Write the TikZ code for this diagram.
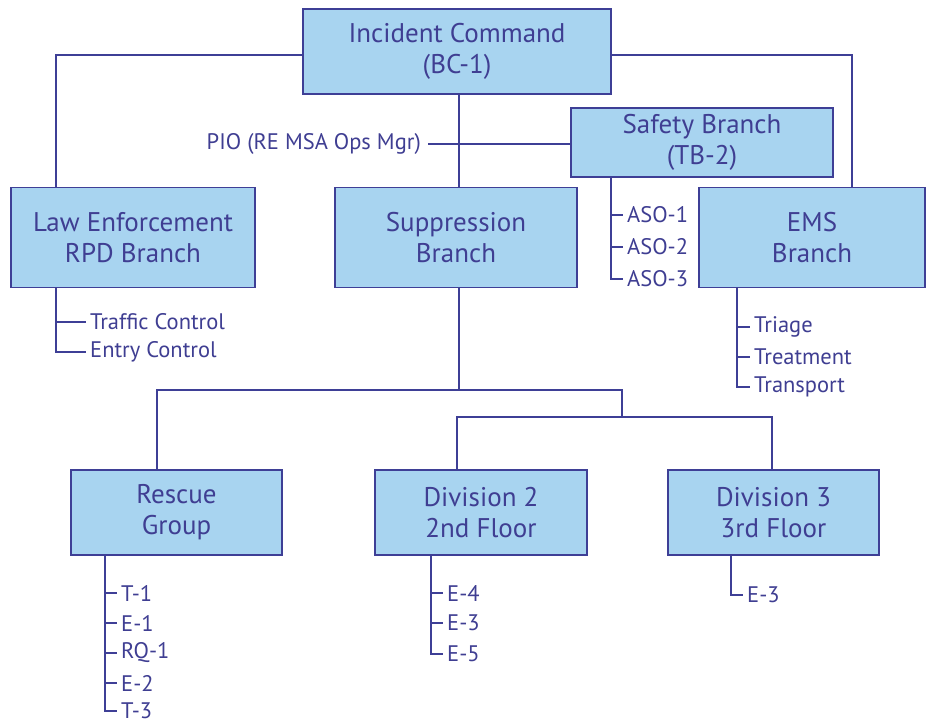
\documentclass[tikz,border=0pt]{standalone}
\usepackage{fontspec}
\setmainfont{PT Sans}
\definecolor{boxfill}{HTML}{A8D4F0}
\definecolor{boxline}{HTML}{3E3F96}
\definecolor{txt}{HTML}{3F3E92}
\begin{document}
\begin{tikzpicture}[x=1pt,y=-1pt,
  box/.style={draw=boxline,fill=boxfill,line width=1.8pt,text=txt,align=center,
    font=\fontsize{27}{31}\selectfont,inner sep=0pt},
  item/.style={text=txt,anchor=west,inner sep=0pt,font=\fontsize{22.5}{26}\selectfont},
  conn/.style={draw=boxline,line width=1.8pt}]
\useasboundingbox (0,0) rectangle (933,724);
% boxes
\node[box,minimum width=308,minimum height=85] (ic) at (457,51.5) {Incident Command\\(BC-1)};
\node[box,minimum width=262,minimum height=69] (safety) at (702,142.5) {Safety Branch\\(TB-2)};
\node[box,minimum width=244,minimum height=100] (law) at (133,237.5) {Law Enforcement\\RPD Branch};
\node[box,minimum width=242,minimum height=100] (supp) at (456,237.5) {Suppression\\Branch};
\node[box,minimum width=226,minimum height=100] (ems) at (812,237.5) {EMS\\Branch};
\node[box,minimum width=211,minimum height=85] (rescue) at (176.5,512.5) {Rescue\\Group};
\node[box,minimum width=212,minimum height=85] (div2) at (481,512.5) {Division 2\\2nd Floor};
\node[box,minimum width=211,minimum height=85] (div3) at (773.5,512.5) {Division 3\\3rd Floor};
% PIO
\node[text=txt,anchor=east,inner sep=0pt,font=\fontsize{22.5}{26}\selectfont] (pio) at (421,144) {PIO (RE MSA Ops Mgr)};
% coordinates
\coordinate (lawtop) at (56,188);
\coordinate (emstop) at (852,188);
\coordinate (icdown) at (459,94);
\coordinate (supptop) at (459,188);
\coordinate (suppbot) at (459,287);
\coordinate (split1) at (459,390);
\coordinate (rescuetop) at (157,470);
\coordinate (split2) at (622,390);
\coordinate (split3) at (622,417);
\coordinate (div2top) at (457,470);
\coordinate (div3top) at (772,470);
% main connectors
\draw[conn] (ic.west |- 0,55) -| (lawtop);
\draw[conn] (ic.east |- 0,55) -| (emstop);
\draw[conn] (icdown) -- (supptop);
\draw[conn] ([xshift=7]pio.east) -- (safety.west |- pio.east);
\draw[conn] (suppbot) -- (split1) -| (rescuetop);
\draw[conn] (split1) -| (split3);
\draw[conn] (div2top) |- (split3) -| (div3top);
% Law items
\coordinate (lawsub) at (56,287);
\node[item] (tc) at (90,322) {Traffic Control};
\node[item] (ec) at (90,352) {Entry Control};
\draw[conn] (lawsub) |- ([xshift=-4]ec.west);
\draw[conn] (tc.west -| lawsub) -- ([xshift=-4]tc.west);
% Safety items
\coordinate (safsub) at (611,177);
\node[item] (aso1) at (627,215) {ASO-1};
\node[item] (aso2) at (627,247) {ASO-2};
\node[item] (aso3) at (627,279) {ASO-3};
\draw[conn] (safsub) |- ([xshift=-4]aso3.west);
\draw[conn] (aso1.west -| safsub) -- ([xshift=-4]aso1.west);
\draw[conn] (aso2.west -| safsub) -- ([xshift=-4]aso2.west);
% EMS items
\coordinate (emssub) at (737,287);
\node[item] (tri) at (754,327) {Triage};
\node[item] (trt) at (754,357) {Treatment};
\node[item] (trp) at (754,387) {Transport};
\draw[conn] (emssub) |- ([xshift=-4]trp.west);
\draw[conn] (tri.west -| emssub) -- ([xshift=-4]tri.west);
\draw[conn] (trt.west -| emssub) -- ([xshift=-4]trt.west);
% Rescue items
\coordinate (ressub) at (105,555);
\node[item] (t1) at (121,593) {T-1};
\node[item] (e1) at (121,623) {E-1};
\node[item] (rq1) at (121,653) {RQ-1};
\node[item] (e2) at (121,683) {E-2};
\node[item] (t3) at (121,711) {T-3};
\draw[conn] (ressub) |- ([xshift=-4]t3.west);
\foreach \n in {t1,e1,rq1,e2}{\draw[conn] (\n.west -| ressub) -- ([xshift=-4]\n.west);}
% Div2 items
\coordinate (d2sub) at (431,555);
\node[item] (e4) at (447,593) {E-4};
\node[item] (e3a) at (447,623) {E-3};
\node[item] (e5) at (447,654) {E-5};
\draw[conn] (d2sub) |- ([xshift=-4]e5.west);
\draw[conn] (e4.west -| d2sub) -- ([xshift=-4]e4.west);
\draw[conn] (e3a.west -| d2sub) -- ([xshift=-4]e3a.west);
% Div3 items
\coordinate (d3sub) at (731,555);
\node[item] (e3b) at (747,595) {E-3};
\draw[conn] (d3sub) |- ([xshift=-4]e3b.west);
\end{tikzpicture}
\end{document}
